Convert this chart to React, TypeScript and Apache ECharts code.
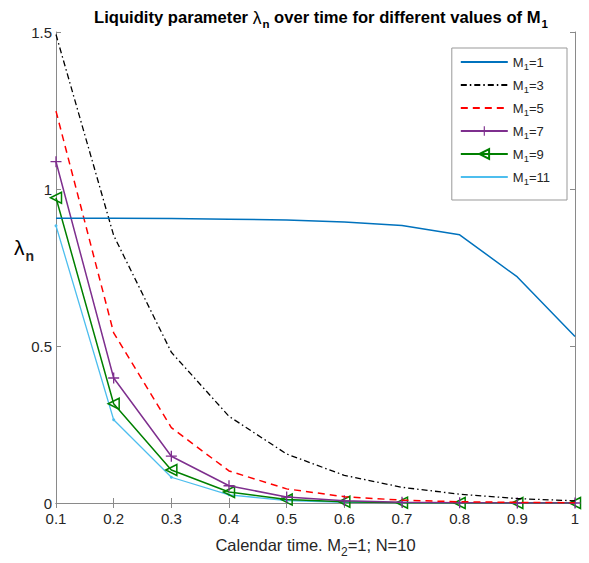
import React, { useEffect, useRef } from "react";
import * as echarts from "echarts";

const times = [0.1, 0.2, 0.3, 0.4, 0.5, 0.6, 0.7, 0.8, 0.9, 1.0];
const m1Labels = ["1", "3", "5", "7", "9", "11"];
const m1_1 = [0.907, 0.907, 0.906, 0.904, 0.901, 0.895, 0.884, 0.854, 0.72, 0.53];
const m1_3 = [1.492, 0.852, 0.48, 0.276, 0.156, 0.088, 0.05, 0.028, 0.014, 0.007];
const m1_5 = [1.248, 0.542, 0.24, 0.102, 0.045, 0.02, 0.009, 0.004, 0.002, 0.001];
const m1_7 = [1.087, 0.398, 0.149, 0.055, 0.019, 0.007, 0.002, 0.001, 0.0, 0.0];
const m1_9 = [0.972, 0.316, 0.105, 0.035, 0.011, 0.004, 0.001, 0.0, 0.0, 0.0];
const m1_11 = [0.883, 0.265, 0.082, 0.026, 0.008, 0.002, 0.001, 0.0, 0.0, 0.0];
const xTicks = [0.1, 0.2, 0.3, 0.4, 0.5, 0.6, 0.7, 0.8, 0.9, 1];
const yTicks = [0, 0.5, 1, 1.5];

const FONT = "'Liberation Sans', Arial, sans-serif";
const TXT = "#262626";
const AX = "#8a8a8a";

const plusPath =
  "path://M4.4,0h1.2v4.4h4.4v1.2h-4.4v4.4h-1.2v-4.4h-4.4v-1.2h4.4z";

export default function App() {
  const ref = useRef<HTMLDivElement>(null);
  useEffect(() => {
    if (!ref.current) return;
    const chart = echarts.init(ref.current, null, { renderer: "svg" });
    const pts = (arr: number[]) => times.map((t, i) => [t, arr[i]]);
    const name = (m: string) => `M1=${m}`;
    const seriesDefs = [
      { data: m1_1, color: "#0072BD", type: "solid", symbol: "none", size: 0, width: 1.5 },
      { data: m1_3, color: "#000000", type: [6, 3, 1.5, 3], symbol: "none", size: 0, width: 1.3 },
      { data: m1_5, color: "#FF0000", type: [7, 5], symbol: "none", size: 0, width: 1.5 },
      { data: m1_7, color: "#7E2F8E", type: "solid", symbol: plusPath, size: 11, width: 1.5 },
      { data: m1_9, color: "#008000", type: "solid", symbol: "triangle", size: 11, width: 1.5 },
      { data: m1_11, color: "#4DBEEE", type: "solid", symbol: "circle", size: 3, width: 1.3 },
    ];
    const series = seriesDefs.map((d, i) => {
      const s: any = {
        name: name(m1Labels[i]),
        type: "line",
        data: pts(d.data),
        color: d.color,
        symbol: d.symbol,
        symbolSize: d.size,
        showSymbol: d.symbol !== "none",
        lineStyle: { color: d.color, width: d.width, type: d.type },
        itemStyle: { color: d.color },
        z: 10 - i,
      };
      if (i === 4) {
        s.symbolRotate = 90;
        s.symbolKeepAspect = true;
        s.itemStyle = { color: "rgba(255,255,255,0)", borderColor: d.color, borderWidth: 1.5 };
      }
      return s;
    });
    const hidden = { color: "rgba(0,0,0,0)", borderWidth: 0 };
    const legendData = m1Labels.map((m, i) => {
      const item: any = { name: name(m) };
      if (i <= 2 || i === 5) item.itemStyle = hidden;
      return item;
    });
    chart.setOption({
      animation: false,
      textStyle: { fontFamily: FONT },
      title: {
        text: "{b|Liquidity parameter }{l|λ}{s|n}{b| over time for different values of M}{s|1}",
        left: 316,
        textAlign: "center",
        top: 0,
        textStyle: {
          rich: {
            b: { fontFamily: FONT, fontWeight: "bold", fontSize: 16.6, color: "#000" },
            l: { fontFamily: FONT, fontWeight: "normal", fontSize: 17.5, color: "#000" },
            s: { fontFamily: FONT, fontWeight: "bold", fontSize: 11.5, color: "#000", padding: [13, 0, 0, 1] },
          },
        },
      },
      legend: {
        orient: "vertical",
        right: 22,
        top: 48,
        itemWidth: 47,
        itemHeight: 12,
        itemGap: 5,
        padding: [5, 17, 14, 8],
        borderColor: "#999",
        borderWidth: 1,
        backgroundColor: "#fff",
        formatter: (n: string) => {
          const v = n.split("=")[1];
          return `{a|M}{s|1}{a|=${v}}`;
        },
        textStyle: {
          rich: {
            a: { fontFamily: FONT, fontSize: 13, color: TXT, lineHeight: 14 },
            s: { fontFamily: FONT, fontSize: 9.5, color: TXT, padding: [8, 0, 0, 0], lineHeight: 10 },
          },
        },
        data: legendData,
      },
      grid: { left: 56, right: 14, top: 32, bottom: 54, containLabel: false },
      xAxis: [
        {
          type: "value",
          min: 0.1,
          max: 1,
          interval: 0.1,
          axisLine: { show: true, lineStyle: { color: AX } },
          axisTick: { show: true, inside: true, length: 5, lineStyle: { color: AX } },
          splitLine: { show: false },
          axisLabel: {
            color: TXT,
            fontSize: 15,
            margin: 8,
            formatter: (v: number) => {
              const r = Math.round(v * 10) / 10;
              return xTicks.includes(r) ? String(r) : "";
            },
          },
          name: "{a|Calendar time. M}{s|2}{a|=1; N=10}",
          nameLocation: "middle",
          nameGap: 29,
          nameTextStyle: {
            rich: {
              a: { fontFamily: FONT, fontSize: 16.5, color: TXT },
              s: { fontFamily: FONT, fontSize: 12, color: TXT, padding: [14, 0, 0, 0] },
            },
          },
        },
        {
          type: "value",
          position: "top",
          min: 0.1,
          max: 1,
          interval: 0.1,
          axisLine: { show: true, lineStyle: { color: AX } },
          axisTick: { show: true, inside: true, length: 5, lineStyle: { color: AX } },
          axisLabel: { show: false },
          splitLine: { show: false },
        },
      ],
      yAxis: [
        {
          type: "value",
          min: 0,
          max: 1.5,
          interval: 0.5,
          axisLine: { show: true, lineStyle: { color: AX } },
          axisTick: { show: true, inside: true, length: 5, lineStyle: { color: AX } },
          splitLine: { show: false },
          axisLabel: {
            color: TXT,
            fontSize: 15,
            margin: 4,
            formatter: (v: number) => (yTicks.includes(v) ? String(v) : ""),
          },
        },
        {
          type: "value",
          position: "right",
          min: 0,
          max: 1.5,
          interval: 0.5,
          axisLine: { show: true, lineStyle: { color: AX } },
          axisTick: { show: true, inside: true, length: 5, lineStyle: { color: AX } },
          axisLabel: { show: false },
          splitLine: { show: false },
        },
      ],
      graphic: [
        {
          type: "text",
          left: 14,
          top: 237,
          style: {
            text: "{l|λ}{s|n}",
            rich: {
              l: { fontFamily: FONT, fontSize: 21, fontWeight: "normal", fill: "#000" },
              s: { fontFamily: FONT, fontSize: 14, fontWeight: "bold", fill: TXT, padding: [16, 0, 0, 1] },
            },
          },
        },
      ],
      series,
    });
    return () => chart.dispose();
  }, []);
  return <div ref={ref} style={{ width: 589, height: 563, position: "absolute", left: 0, top: 0, background: "#fff" }} />;
}
